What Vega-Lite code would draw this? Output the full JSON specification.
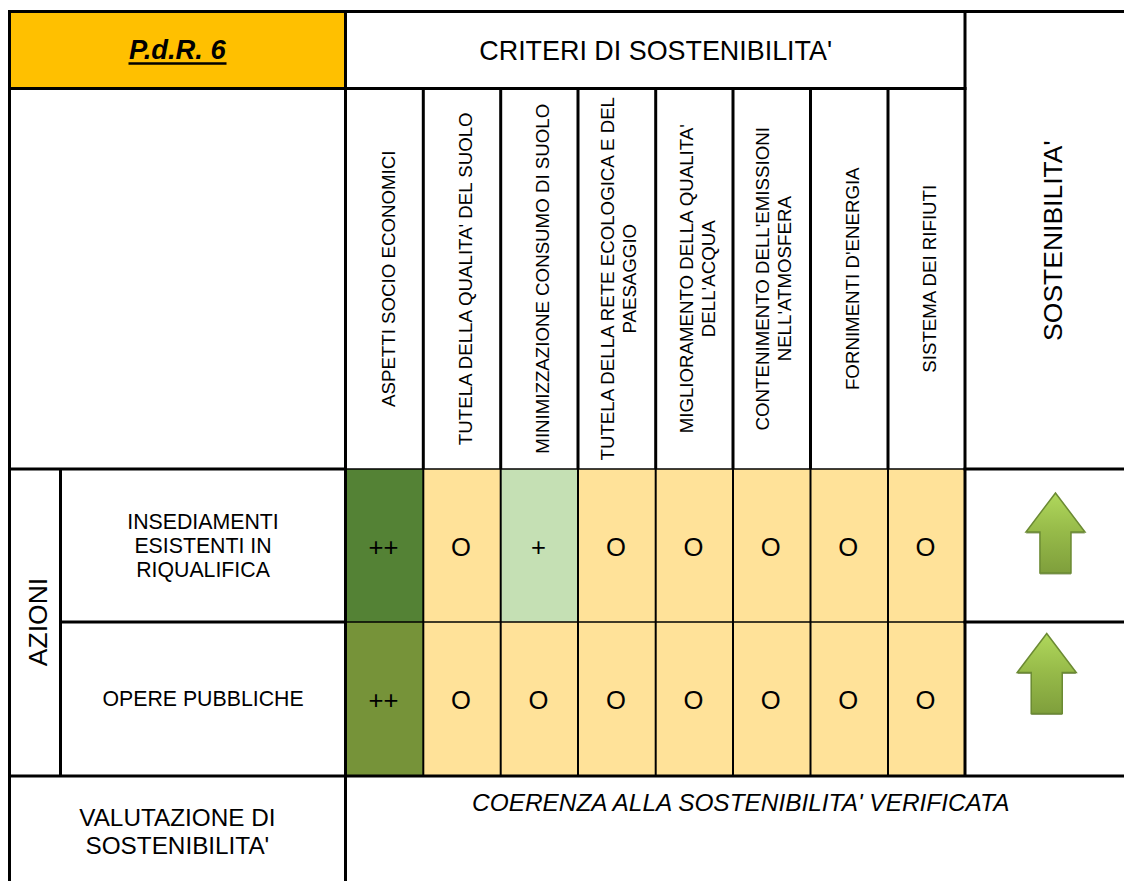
{"$schema":"https://vega.github.io/schema/vega-lite/v6.json","width":1124,"height":881,"padding":0,"autosize":{"type":"none"},"background":"white","config":{"view":{"stroke":null}},
"datasets":{
"cells":[{"c":0,"c2":2,"r":0,"r2":1,"tone":"titolo"},
{"c":2,"c2":3,"r":2,"r2":3,"tone":"++ forte"},{"c":3,"c2":4,"r":2,"r2":3,"tone":"O"},{"c":4,"c2":5,"r":2,"r2":3,"tone":"+"},{"c":5,"c2":6,"r":2,"r2":3,"tone":"O"},{"c":6,"c2":7,"r":2,"r2":3,"tone":"O"},{"c":7,"c2":8,"r":2,"r2":3,"tone":"O"},{"c":8,"c2":9,"r":2,"r2":3,"tone":"O"},{"c":9,"c2":10,"r":2,"r2":3,"tone":"O"},
{"c":2,"c2":3,"r":3,"r2":4,"tone":"++"},{"c":3,"c2":4,"r":3,"r2":4,"tone":"O"},{"c":4,"c2":5,"r":3,"r2":4,"tone":"O"},{"c":5,"c2":6,"r":3,"r2":4,"tone":"O"},{"c":6,"c2":7,"r":3,"r2":4,"tone":"O"},{"c":7,"c2":8,"r":3,"r2":4,"tone":"O"},{"c":8,"c2":9,"r":3,"r2":4,"tone":"O"},{"c":9,"c2":10,"r":3,"r2":4,"tone":"O"}],
"hlines":[{"c":0,"c2":11,"r":0,"w":"thick"},{"c":0,"c2":10,"r":1,"w":"thick"},{"c":0,"c2":2,"r":2,"w":"thick"},{"c":2,"c2":10,"r":2,"w":"thin"},{"c":10,"c2":11,"r":2,"w":"thick"},{"c":1,"c2":2,"r":3,"w":"thick"},{"c":2,"c2":10,"r":3,"w":"thin"},{"c":10,"c2":11,"r":3,"w":"thick"},{"c":0,"c2":11,"r":4,"w":"thick"}],
"vlines":[{"c":0,"r":0,"r2":5,"w":"thick"},{"c":1,"r":2,"r2":4,"w":"thick"},{"c":2,"r":0,"r2":5,"w":"thick"},{"c":3,"r":1,"r2":2,"w":"thick"},{"c":4,"r":1,"r2":2,"w":"thick"},{"c":5,"r":1,"r2":2,"w":"thick"},{"c":6,"r":1,"r2":2,"w":"thick"},{"c":7,"r":1,"r2":2,"w":"thick"},{"c":8,"r":1,"r2":2,"w":"thick"},{"c":9,"r":1,"r2":2,"w":"thick"},{"c":3,"r":2,"r2":4,"w":"thin"},{"c":4,"r":2,"r2":4,"w":"thin"},{"c":5,"r":2,"r2":4,"w":"thin"},{"c":6,"r":2,"r2":4,"w":"thin"},{"c":7,"r":2,"r2":4,"w":"thin"},{"c":8,"r":2,"r2":4,"w":"thin"},{"c":9,"r":2,"r2":4,"w":"thin"},{"c":10,"r":0,"r2":4,"w":"thick"}],
"criteri":[{"x":2.555,"y":1.5,"t":["ASPETTI SOCIO ECONOMICI"]},{"x":3.555,"y":1.5,"t":["TUTELA DELLA QUALITA' DEL SUOLO"]},{"x":4.545,"y":1.5,"t":["MINIMIZZAZIONE CONSUMO DI SUOLO"]},{"x":5.387,"y":1.5,"t":["TUTELA DELLA RETE ECOLOGICA E DEL","PAESAGGIO"]},{"x":6.4,"y":1.5,"t":["MIGLIORAMENTO DELLA QUALITA'","DELL'ACQUA"]},{"x":7.39,"y":1.5,"t":["CONTENIMENTO DELL'EMISSIONI","NELL'ATMOSFERA"]},{"x":8.545,"y":1.5,"t":["FORNIMENTI D'ENERGIA"]},{"x":9.545,"y":1.5,"t":["SISTEMA DEI RIFIUTI"]}],
"voti":[{"x":2.5,"y":2.5,"t":"++"},{"x":3.5,"y":2.5,"t":"O"},{"x":4.5,"y":2.5,"t":"+"},{"x":5.5,"y":2.5,"t":"O"},{"x":6.5,"y":2.5,"t":"O"},{"x":7.5,"y":2.5,"t":"O"},{"x":8.5,"y":2.5,"t":"O"},{"x":9.5,"y":2.5,"t":"O"},{"x":2.5,"y":3.5,"t":"++"},{"x":3.5,"y":3.5,"t":"O"},{"x":4.5,"y":3.5,"t":"O"},{"x":5.5,"y":3.5,"t":"O"},{"x":6.5,"y":3.5,"t":"O"},{"x":7.5,"y":3.5,"t":"O"},{"x":8.5,"y":3.5,"t":"O"},{"x":9.5,"y":3.5,"t":"O"}],
"azioni":[{"x":1.5,"y":2.346,"t":["INSEDIAMENTI","ESISTENTI IN","RIQUALIFICA"]},{"x":1.5,"y":3.5,"t":["OPERE PUBBLICHE"]}],
"valutazione":[{"x":1.41,"y":4.4,"t":["VALUTAZIONE DI","SOSTENIBILITA'"]}],
"frecce":[{"x":10.569,"y":2.418,"azione":"INSEDIAMENTI ESISTENTI IN RIQUALIFICA"},{"x":10.514,"y":3.334,"azione":"OPERE PUBBLICHE"}]
},
"layer":[
{"data":{"name":"cells"},"mark":{"type":"rect"},"encoding":{"x":{"field":"c","type":"quantitative","scale":{"domain":[0,1,2,3,4,5,6,7,8,9,10,11],"range":[9.5,60.5,345.5,423.3,500.7,578,655.7,733,810.5,888,965,1124],"nice":false,"zero":false},"axis":null},"x2":{"field":"c2"},"y":{"field":"r","type":"quantitative","scale":{"domain":[0,1,2,3,4,5],"range":[11.5,88.5,469,622,776,881],"nice":false,"zero":false},"axis":null},"y2":{"field":"r2"},"color":{"field":"tone","type":"nominal","legend":null,"scale":{"domain":["titolo","++ forte","++","+","O"],"range":["#FFC000","#548235","#769339","#C5E0B4","#FFE299"]}}}},
{"data":{"name":"hlines"},"transform":[{"filter":"datum.w=='thin'"}],"mark":{"type":"rule","color":"black","strokeWidth":1.5},"encoding":{"x":{"field":"c","type":"quantitative","axis":null},"x2":{"field":"c2"},"y":{"field":"r","type":"quantitative","axis":null}}},
{"data":{"name":"vlines"},"transform":[{"filter":"datum.w=='thin'"}],"mark":{"type":"rule","color":"black","strokeWidth":2},"encoding":{"x":{"field":"c","type":"quantitative","axis":null},"y":{"field":"r","type":"quantitative","axis":null},"y2":{"field":"r2"}}},
{"data":{"name":"hlines"},"transform":[{"filter":"datum.w=='thick'"}],"mark":{"type":"rule","color":"black","strokeWidth":3,"strokeCap":"square"},"encoding":{"x":{"field":"c","type":"quantitative","axis":null},"x2":{"field":"c2"},"y":{"field":"r","type":"quantitative","axis":null}}},
{"data":{"name":"vlines"},"transform":[{"filter":"datum.w=='thick'"}],"mark":{"type":"rule","color":"black","strokeWidth":3},"encoding":{"x":{"field":"c","type":"quantitative","axis":null},"y":{"field":"r","type":"quantitative","axis":null},"y2":{"field":"r2"}}},
{"data":{"values":[{"x":1.41,"y":0.5,"t":"P.d.R. 6"}]},"mark":{"type":"text","font":"Liberation Sans","fontSize":27.3,"fontWeight":"bold","fontStyle":"italic","align":"center","baseline":"middle","color":"black","dy":1},"encoding":{"x":{"field":"x","type":"quantitative","axis":null},"y":{"field":"y","type":"quantitative","axis":null},"text":{"field":"t"}}},
{"data":{"values":[{"a":1.2386,"b":1.5825,"y":0.675}]},"mark":{"type":"rule","color":"black","strokeWidth":2.5},"encoding":{"x":{"field":"a","type":"quantitative","axis":null},"x2":{"field":"b"},"y":{"field":"y","type":"quantitative","axis":null}}},
{"data":{"values":[{"x":6,"y":0.5,"t":"CRITERI DI SOSTENIBILITA'"}]},"mark":{"type":"text","font":"Liberation Sans","fontSize":26.9,"align":"center","baseline":"middle","color":"black","dy":2},"encoding":{"x":{"field":"x","type":"quantitative","axis":null},"y":{"field":"y","type":"quantitative","axis":null},"text":{"field":"t"}}},
{"data":{"name":"criteri"},"mark":{"type":"text","font":"Liberation Sans","fontSize":18.7,"angle":270,"align":"center","baseline":"middle","color":"black","lineHeight":22},"encoding":{"x":{"field":"x","type":"quantitative","axis":null},"y":{"field":"y","type":"quantitative","axis":null},"text":{"field":"t"}}},
{"data":{"values":[{"x":10.56,"y":1.4,"t":"SOSTENIBILITA'"}]},"mark":{"type":"text","font":"Liberation Sans","fontSize":26.5,"angle":270,"align":"center","baseline":"middle","color":"black"},"encoding":{"x":{"field":"x","type":"quantitative","axis":null},"y":{"field":"y","type":"quantitative","axis":null},"text":{"field":"t"}}},
{"data":{"values":[{"x":0.58,"y":3,"t":"AZIONI"}]},"mark":{"type":"text","font":"Liberation Sans","fontSize":26.5,"angle":270,"align":"center","baseline":"middle","color":"black"},"encoding":{"x":{"field":"x","type":"quantitative","axis":null},"y":{"field":"y","type":"quantitative","axis":null},"text":{"field":"t"}}},
{"data":{"name":"azioni"},"mark":{"type":"text","font":"Liberation Sans","fontSize":21.3,"align":"center","baseline":"middle","color":"black","lineHeight":24,"dy":1},"encoding":{"x":{"field":"x","type":"quantitative","axis":null},"y":{"field":"y","type":"quantitative","axis":null},"text":{"field":"t"}}},
{"data":{"name":"valutazione"},"mark":{"type":"text","font":"Liberation Sans","fontSize":24.3,"align":"center","baseline":"middle","color":"black","lineHeight":27.5,"dy":1},"encoding":{"x":{"field":"x","type":"quantitative","axis":null},"y":{"field":"y","type":"quantitative","axis":null},"text":{"field":"t"}}},
{"data":{"values":[{"x":7.1,"y":4.257,"t":"COERENZA ALLA SOSTENIBILITA' VERIFICATA"}]},"mark":{"type":"text","font":"Liberation Sans","fontSize":24.4,"fontStyle":"italic","align":"center","baseline":"middle","color":"black","dy":1},"encoding":{"x":{"field":"x","type":"quantitative","axis":null},"y":{"field":"y","type":"quantitative","axis":null},"text":{"field":"t"}}},
{"data":{"name":"voti"},"mark":{"type":"text","font":"Liberation Sans","fontSize":25.6,"align":"center","baseline":"middle","color":"black","dy":2,"dx":-1},"encoding":{"x":{"field":"x","type":"quantitative","axis":null},"y":{"field":"y","type":"quantitative","axis":null},"text":{"field":"t"}}},
{"data":{"name":"frecce"},"mark":{"type":"point","filled":true,"size":25600,"opacity":1,"yOffset":1.5,"color":"#8f9f70","shape":"M0,-0.5 L0.369,-0.0125 L0.194,-0.0125 L0.194,0.5 L-0.194,0.5 L-0.194,-0.0125 L-0.369,-0.0125 Z"},"encoding":{"x":{"field":"x","type":"quantitative","axis":null},"y":{"field":"y","type":"quantitative","axis":null}}},
{"data":{"name":"frecce"},"mark":{"type":"point","filled":true,"size":25600,"opacity":1,"stroke":"#6b8a33","strokeWidth":1.5,"fill":{"gradient":"linear","x1":0,"y1":0,"x2":0,"y2":1,"stops":[{"offset":0,"color":"#b0d85c"},{"offset":0.45,"color":"#98bc4a"},{"offset":1,"color":"#7f9f3c"}]},"shape":"M0,-0.5 L0.369,-0.0125 L0.194,-0.0125 L0.194,0.5 L-0.194,0.5 L-0.194,-0.0125 L-0.369,-0.0125 Z"},"encoding":{"x":{"field":"x","type":"quantitative","axis":null},"y":{"field":"y","type":"quantitative","axis":null}}}
]}
